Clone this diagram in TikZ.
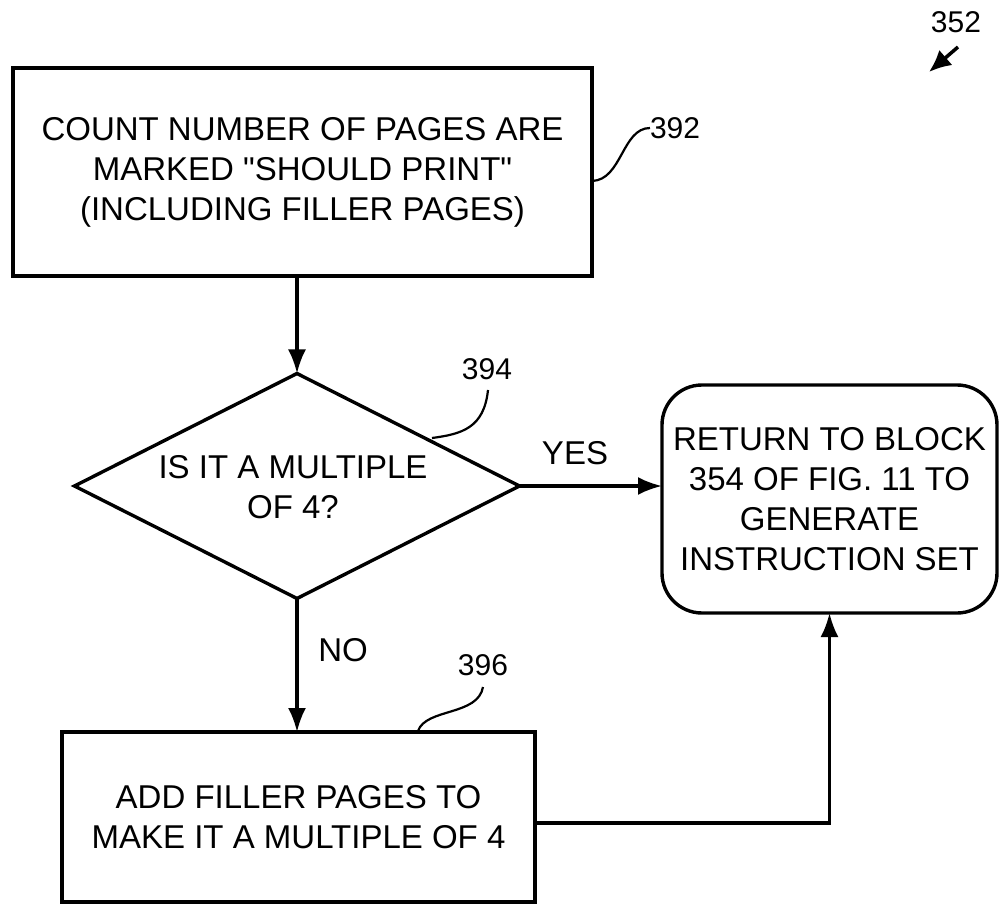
\documentclass[tikz,border=0pt]{standalone}
\usepackage{fontspec}
\setmainfont{Liberation Sans}
\newfontfamily\plainqfont{Liberation Sans}[Ligatures=TeXOff]
\newcommand{\sq}{{\plainqfont\symbol{34}}}
\usetikzlibrary{shapes.geometric,arrows.meta}
\begin{document}
\begin{tikzpicture}[x=1pt,y=-1pt,
  every node/.style={inner sep=0pt,outer sep=0pt},
  boxtext/.style={align=center,font=\fontsize{33}{40}\selectfont},
  procbox/.style={draw,line width=3.4pt,boxtext},
  reflabel/.style={font=\fontsize{30}{34}\selectfont},
  flow/.style={line width=3.2pt,-{Latex[length=24pt,width=18pt]}},
  leader/.style={line width=2.2pt}]
\useasboundingbox (0,0) rectangle (999,909);
% top box
\node[procbox,minimum width=579pt,minimum height=208pt] (a) at (302.5,172)
  {COUNT NUMBER OF PAGES ARE\\MARKED \sq SHOULD PRINT\sq\\(INCLUDING FILLER PAGES)};
% decision
\node[draw,diamond,line width=3.4pt,minimum width=445pt,minimum height=225pt,aspect=1.98] (d) at (297,486) {};
\node[boxtext] (dt) at (293,487) {IS IT A MULTIPLE\\OF 4?};
% return box
\node[procbox,rounded corners=40pt,minimum width=335pt,minimum height=228pt] (r) at (829.5,499)
  {RETURN TO BLOCK\\354 OF FIG. 11 TO\\GENERATE\\INSTRUCTION SET};
% bottom box
\node[procbox,minimum width=473pt,minimum height=170pt] (b) at (298.5,817)
  {ADD FILLER PAGES TO\\MAKE IT A MULTIPLE OF 4};
% connectors
\draw[flow] (d.north |- a.south) -- (d.north);
\draw[flow] (d.east) -- (d.east -| r.west);
\draw[flow] (d.south) -- (d.south |- b.north);
\coordinate (bo) at (535,823);
\draw[flow] (bo) -| (r.south);
% branch labels
\node[boxtext] (yes) at (575,453) {YES};
\node[boxtext] (no) at (343,650) {NO};
% reference labels
\node[reflabel,anchor=west] (n392) at (650,128) {392};
\coordinate (l392) at (592,181);
\draw[leader] (l392) .. controls (622,180) and (622,128) .. (n392.west);
\node[reflabel] (n394) at (487,369) {394};
\coordinate (l394a) at (488,390);
\coordinate (l394b) at (432,438);
\draw[leader] (l394a) .. controls (484,428) and (462,434) .. (l394b);
\node[reflabel] (n396) at (483,665) {396};
\coordinate (l396a) at (483,687);
\coordinate (l396b) at (418,731);
\draw[leader] (l396a) .. controls (478,716) and (426,708) .. (l396b);
\node[reflabel] (n352) at (956,22) {352};
\coordinate (t352) at (958,47);
\coordinate (h352) at (929,72);
\draw[line width=3.5pt,-{Latex[length=22pt,width=20pt]}] (t352) -- (h352);
\end{tikzpicture}
\end{document}
